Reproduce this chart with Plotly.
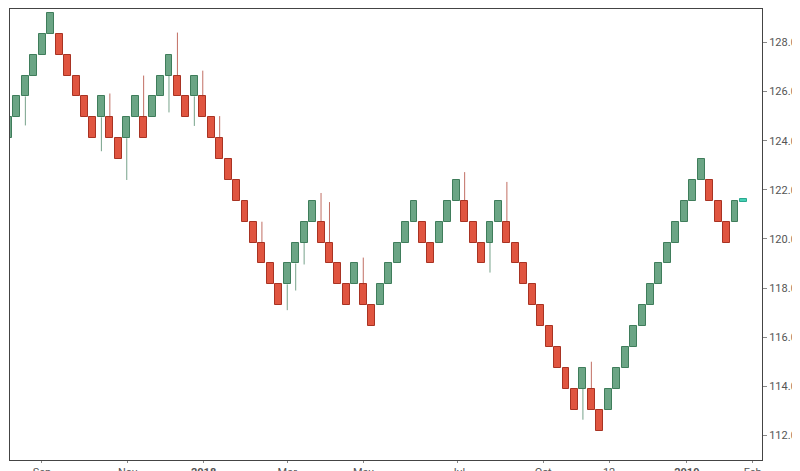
import plotly.graph_objects as go

# renko bricks: level index of each brick (brick k spans BASE + k*BRICK .. +BRICK)
BRICK = 0.85
BASE = 112.2
levels = [14, 15, 16, 17, 18, 19, 18, 17, 16, 15, 14, 15, 14, 13, 14, 15, 14, 15, 16, 17,
          16, 15, 16, 15, 14, 13, 12, 11, 10, 9, 8, 7, 6, 7, 8, 9, 10, 9, 8, 7,
          6, 7, 6, 5, 6, 7, 8, 9, 10, 9, 8, 9, 10, 11, 10, 9, 8, 9, 10, 9,
          8, 7, 6, 5, 4, 3, 2, 1, 2, 1, 0, 1, 2, 3, 4, 5, 6, 7, 8, 9,
          10, 11, 12, 11, 10, 9, 10]

# wicks: column, extreme value
wick_col = [2, 11, 12, 14, 16, 19, 20, 22, 23, 25, 30, 33, 34, 35, 37, 38, 42, 54, 57, 59, 68, 69]
wick_val = [124.62, 123.57, 125.92, 122.4, 126.65, 125.15, 128.4, 124.6, 126.85, 125.0,
            120.7, 117.1, 117.9, 118.96, 121.87, 121.5, 119.24, 122.72, 118.63, 122.32,
            112.64, 115.0]

tick_pos = [3.96, 14.1, 23.1, 33.0, 42.0, 53.2, 63.3, 71.1, 80.3, 88.1]
tick_txt = ["Sep", "Nov", "<b>2018</b>", "Mar", "May", "Jul", "Oct", "12", "<b>2019</b>", "Feb"]
y_ticks = [112, 114, 116, 118, 120, 122, 124, 126, 128]

GREEN, GREEN_LINE = "#6ba585", "#3f7d5b"
RED, RED_LINE = "#e05540", "#a83323"

xs = list(range(len(levels)))
bottoms = [BASE + BRICK * k for k in levels]
up = [i == 0 or levels[i] > levels[i - 1] for i in xs]
fill = [GREEN if u else RED for u in up]
edge = [GREEN_LINE if u else RED_LINE for u in up]

fig = go.Figure()

# wicks behind bricks
for col, val in zip(wick_col, wick_val):
    lo, hi = bottoms[col], bottoms[col] + BRICK
    end = lo if val < lo else hi
    fig.add_trace(go.Scatter(x=[col, col], y=[end, val], mode="lines",
                             line=dict(color=edge[col], width=1), opacity=0.7,
                             hoverinfo="skip", showlegend=False))

fig.add_trace(go.Bar(x=xs, y=[BRICK] * len(xs), base=bottoms, width=0.82,
                     marker=dict(color=fill, line=dict(color=edge, width=1)),
                     showlegend=False))

# current (unfinished) brick
fig.add_trace(go.Bar(x=[87], y=[0.12], base=[121.5], width=0.9,
                     marker=dict(color="#45d0b4", line=dict(color="#2aa88f", width=1)),
                     showlegend=False))

fig.update_layout(
    width=800, height=471,
    margin=dict(l=2, r=46, t=1, b=19),
    plot_bgcolor="white", paper_bgcolor="white",
    bargap=0,
    font=dict(family="Roboto, Arial", size=11, color="#555"),
    xaxis=dict(range=[0.18, 89.2], tickvals=tick_pos, ticktext=tick_txt,
               showgrid=False, zeroline=False, showline=True, linecolor="#444",
               mirror=True, ticks="outside", ticklen=2, tickcolor="#888",
               automargin=False),
    yaxis=dict(range=[111.0, 129.36], side="right", tickvals=y_ticks,
               ticktext=[f"{v:.2f}" for v in y_ticks], showgrid=False, zeroline=False,
               showline=True, linecolor="#444", mirror=True,
               ticks="outside", ticklen=4, tickcolor="#888", automargin=False),
)
fig.add_annotation(text="⚙", xref="paper", yref="paper", x=1.045, y=-0.02,
                   yanchor="top", showarrow=False, font=dict(size=12, color="#555"))

fig.write_html("out.html")
